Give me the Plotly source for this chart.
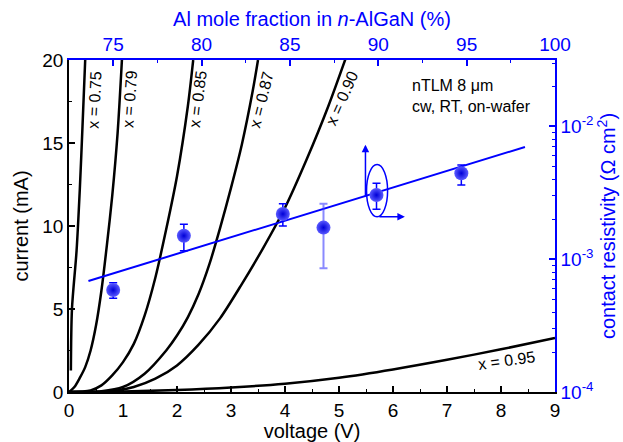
import plotly.graph_objects as go

# ---------------- I-V curves (voltage in V, current in mA) ----------------
v_075 = [0.035, 0.055, 0.14, 0.20, 0.25, 0.30]
i_075 = [1.3, 5.0, 8.5, 12.2, 16.0, 20.0]

v_079 = [0.0, 0.1, 0.2, 0.3, 0.4, 0.5, 0.6, 0.7, 0.8, 0.9, 0.98]
i_079 = [0.0, 0.3, 0.85, 1.5, 2.5, 4.0, 6.1, 8.8, 11.8, 15.6, 20.0]

v_085 = [0.0, 0.4, 0.6, 0.8, 1.0, 1.2, 1.4, 1.6, 1.8, 2.0, 2.2, 2.3]
i_085 = [0.0, 0.1, 0.4, 1.0, 1.8, 2.9, 4.6, 6.9, 9.8, 13.0, 17.2, 20.0]

v_087 = [0.0, 0.6, 1.0, 1.4, 1.8, 2.0, 2.2, 2.4, 2.6, 2.8, 3.0, 3.2, 3.4, 3.5]
i_087 = [0.0, 0.05, 0.3, 1.1, 2.5, 3.4, 4.5, 5.9, 7.7, 9.9, 12.3, 14.9, 18.1, 20.0]

v_090 = [0.0, 0.8, 1.2, 1.6, 2.0, 2.4, 2.8, 3.2, 3.6, 4.0, 4.4, 4.8, 5.2]
i_090 = [0.0, 0.05, 0.3, 0.8, 1.6, 2.85, 4.45, 6.5, 8.7, 11.1, 14.0, 17.2, 20.8]

v_095 = [0, 1, 2, 3, 4, 5, 6, 7, 8, 9]
i_095 = [0.0, 0.03, 0.12, 0.27, 0.5, 0.86, 1.36, 1.94, 2.57, 3.25]

curve_labels = ["x = 0.75", "x = 0.79", "x = 0.85", "x = 0.87", "x = 0.90", "x = 0.95"]

# ---------------- contact resistivity vs Al fraction ----------------
al_fraction = [75.0, 79.0, 84.6, 86.9, 89.9, 94.7]
rho = [5.86e-4, 1.50e-3, 2.19e-3, 1.73e-3, 3.04e-3, 4.44e-3]
rho_hi = [6.65e-4, 1.83e-3, 2.61e-3, 2.61e-3, 3.73e-3, 5.13e-3]
rho_lo = [5.08e-4, 1.16e-3, 1.78e-3, 8.53e-4, 2.38e-3, 3.62e-3]

fit_al = [73.6, 98.3]
fit_rho = [6.85e-4, 7.0e-3]

# tick labels
x_ticks = list(range(0, 10))
y_ticks = [0, 5, 10, 15, 20]
al_ticks = [75, 80, 85, 90, 95, 100]
rho_ticks = [1e-4, 1e-3, 1e-2]
rho_ticktext = ["10<sup>-4</sup>", "10<sup>-3</sup>", "10<sup>-2</sup>"]

BLUE = "#0000ff"
FONT = "Liberation Sans, Arial, sans-serif"

fig = go.Figure()

curves = [(v_075, i_075), (v_079, i_079), (v_085, i_085),
          (v_087, i_087), (v_090, i_090), (v_095, i_095)]
for (vv, ii), lab in zip(curves, curve_labels):
    fig.add_trace(go.Scatter(x=vv, y=ii, mode="lines", name=lab,
                             line=dict(color="black", width=2.5, shape="spline", smoothing=0.8),
                             showlegend=False, hoverinfo="skip"))

# fit line
fig.add_trace(go.Scatter(x=fit_al, y=fit_rho, mode="lines", xaxis="x2", yaxis="y2",
                         line=dict(color=BLUE, width=2), showlegend=False))

err_plus = [h - r for h, r in zip(rho_hi, rho)]
err_minus = [r - l for r, l in zip(rho, rho_lo)]

marker_style = dict(color="#5a5aff", size=14,
                    gradient=dict(type="radial", color="#0000d8"),
                    line=dict(width=0))

solid_idx = [0, 1, 2, 4, 5]
faint_idx = [3]
fig.add_trace(go.Scatter(
    x=[al_fraction[k] for k in solid_idx], y=[rho[k] for k in solid_idx],
    mode="markers", xaxis="x2", yaxis="y2", showlegend=False,
    marker=marker_style,
    error_y=dict(type="data", array=[err_plus[k] for k in solid_idx],
                 arrayminus=[err_minus[k] for k in solid_idx],
                 color=BLUE, thickness=1.5, width=4)))
fig.add_trace(go.Scatter(
    x=[al_fraction[k] for k in faint_idx], y=[rho[k] for k in faint_idx],
    mode="markers", xaxis="x2", yaxis="y2", showlegend=False,
    marker=marker_style,
    error_y=dict(type="data", array=[err_plus[k] for k in faint_idx],
                 arrayminus=[err_minus[k] for k in faint_idx],
                 color="rgba(60,60,255,0.6)", thickness=2, width=4)))

# curve labels
label_pos = [(0.48, 17.6, -87), (1.13, 17.6, -86), (2.39, 17.6, -83),
             (3.57, 17.6, -76), (5.05, 17.7, -66), (8.10, 1.9, -8)]
for lab, (lx, ly, ang) in zip(curve_labels, label_pos):
    fig.add_annotation(x=lx, y=ly, xref="x", yref="y", text=lab, showarrow=False,
                       textangle=ang, font=dict(size=16, color="black", family=FONT))

fig.add_annotation(x=6.31, y=17.86, xref="x", yref="y",
                   text="nTLM 8 \u03bcm<br>cw, RT, on-wafer", showarrow=False,
                   xanchor="left", yanchor="middle", align="left",
                   font=dict(size=16, color="black", family=FONT))

# ellipse and axis arrows
fig.add_shape(type="circle", xref="x", yref="y", x0=5.51, x1=5.90, y0=10.55, y1=13.7,
              line=dict(color=BLUE, width=1.5))
fig.add_annotation(x=5.49, y=14.9, ax=5.49, ay=11.7, xref="x", yref="y",
                   axref="x", ayref="y", text="", showarrow=True, arrowhead=2,
                   arrowsize=1, arrowwidth=1.5, arrowcolor=BLUE)
fig.add_annotation(x=6.22, y=10.55, ax=5.72, ay=10.55, xref="x", yref="y",
                   axref="x", ayref="y", text="", showarrow=True, arrowhead=2,
                   arrowsize=1, arrowwidth=1.5, arrowcolor=BLUE)

tickfont = dict(size=19, family=FONT, color="black")
bluetick = dict(size=19, family=FONT, color=BLUE)

fig.update_layout(
    width=623, height=442,
    margin=dict(l=69, r=68, t=60, b=50),
    paper_bgcolor="white", plot_bgcolor="white",
    font=dict(family=FONT, color="black"),
    xaxis=dict(range=[0, 9], tickmode="array", tickvals=x_ticks, automargin=False,
               ticks="inside", ticklen=6, tickwidth=1.5, tickcolor="black",
               minor=dict(ticks="inside", ticklen=3.5, tickwidth=1.2, dtick=0.5, tick0=0, tickcolor="black"),
               showline=True, linecolor="black", linewidth=1.5, mirror=False,
               showgrid=False, zeroline=False, tickfont=tickfont,
               title=dict(text="voltage (V)", font=dict(size=20, family=FONT), standoff=1)),
    yaxis=dict(range=[0, 20], tickmode="array", tickvals=y_ticks, automargin=False,
               ticks="inside", ticklen=6, tickwidth=1.5, tickcolor="black",
               minor=dict(ticks="inside", ticklen=3.5, tickwidth=1.2, dtick=2.5, tick0=0, tickcolor="black"),
               showline=True, linecolor="black", linewidth=1.5, mirror=False,
               showgrid=False, zeroline=False, tickfont=tickfont,
               title=dict(text="current (mA)", font=dict(size=20, family=FONT), standoff=8)),
    xaxis2=dict(overlaying="x", side="top", anchor="y", range=[72.5, 100], automargin=False,
                tickmode="array", tickvals=al_ticks,
                ticks="inside", ticklen=6, tickwidth=1.5, tickcolor=BLUE,
                minor=dict(ticks="inside", ticklen=3.5, tickwidth=1.2, dtick=2.5, tick0=72.5, tickcolor=BLUE),
                showline=True, linecolor=BLUE, linewidth=1.5,
                showgrid=False, zeroline=False, tickfont=bluetick,
                title=dict(text="Al mole fraction in <i>n</i>-AlGaN (%)",
                           font=dict(size=20, family=FONT, color=BLUE), standoff=2)),
    yaxis2=dict(overlaying="y", side="right", anchor="x", type="log", range=[-4, -1.5],
                automargin=False,
                tickmode="array", tickvals=rho_ticks, ticktext=rho_ticktext,
                ticks="inside", ticklen=6, tickwidth=1.5, tickcolor=BLUE,
                minor=dict(ticks="inside", ticklen=3.5, tickwidth=1.2, tickcolor=BLUE,
                           tickmode="array",
                           tickvals=[m * 10.0 ** e for e in (-4, -3, -2) for m in range(2, 10)]),
                showline=True, linecolor=BLUE, linewidth=1.5,
                showgrid=False, zeroline=False, tickfont=bluetick,
                title=dict(text="contact resistivity (\u03a9 cm<sup>2</sup>)",
                           font=dict(size=20, family=FONT, color=BLUE), standoff=8)),
)

fig.write_html("out.html")
